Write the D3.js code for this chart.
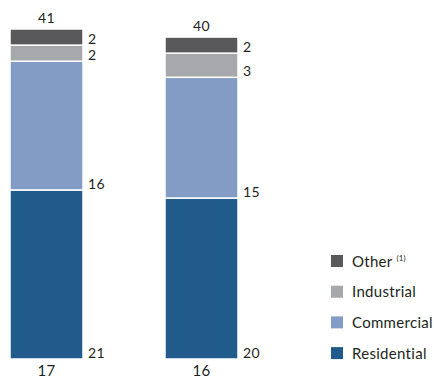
<!DOCTYPE html>
<html><head><meta charset="utf-8">
<script src="https://cdn.jsdelivr.net/npm/d3@7"></script>
<style>body{margin:0;background:#fff}svg{display:block;font-family:Lato,"Open Sans",sans-serif}</style>
</head><body><div id="c"></div>
<script>
const categories = ["17", "16"];
const seriesNames = ["Residential", "Commercial", "Industrial", "Other"];
const residential = [21, 20];
const commercial = [16, 15];
const industrial = [2, 3];
const other = [2, 2];
const totals = [41, 40];
const colors = ["#215b8c", "#839cc5", "#a7a8ab", "#59595b"];

const W = 434, H = 379;
const svg = d3.select("#c").append("svg").attr("width", W).attr("height", H);

const rows = categories.map((c, i) => ({cat: c, Residential: residential[i], Commercial: commercial[i], Industrial: industrial[i], Other: other[i], total: totals[i]}));
const stack = d3.stack().keys(seriesNames)(rows);

const bw = 73;
const x = d3.scalePoint().domain(categories).range([10, 165]);
const xPos = c => x(c);
const y = d3.scaleLinear().domain([0, 41]).range([359, 29]);
const color = d3.scaleOrdinal().domain(seriesNames).range(colors);
const textColor = "#231f20";

stack.forEach(s => {
  const g = svg.append("g");
  g.selectAll("rect").data(s).join("rect")
    .attr("x", d => xPos(d.data.cat))
    .attr("width", bw)
    .attr("y", d => y(d[1]))
    .attr("height", d => y(d[0]) - y(d[1]))
    .attr("fill", color(s.key))
    .attr("stroke", "#fff").attr("stroke-width", 1.5);
  g.selectAll("text").data(s).join("text")
    .attr("x", d => xPos(d.data.cat) + bw + 5)
    .attr("y", d => y(d[0]) - 1)
    .attr("font-size", 14).attr("letter-spacing", 0.3).attr("fill", textColor)
    .text(d => d[1] - d[0]);
});

svg.selectAll(".tot").data(rows).join("text")
  .attr("x", d => xPos(d.cat) + bw / 2)
  .attr("y", d => y(d.total) - 6)
  .attr("text-anchor", "middle").attr("font-size", 14).attr("letter-spacing", 0.3).attr("fill", textColor)
  .text(d => d.total);

svg.selectAll(".cat").data(rows).join("text")
  .attr("x", d => xPos(d.cat) + bw / 2)
  .attr("y", 376)
  .attr("text-anchor", "middle").attr("font-size", 15).attr("letter-spacing", 0.3).attr("fill", textColor)
  .text(d => d.cat);

const legendItems = ["Other", "Industrial", "Commercial", "Residential"];
const lg = svg.append("g");
legendItems.forEach((k, i) => {
  const cy = 261 + i * 30.7;
  lg.append("rect").attr("x", 331).attr("y", cy - 6).attr("width", 12).attr("height", 12).attr("fill", color(k));
  const t = lg.append("text").attr("x", 352).attr("y", cy + 5.5).attr("font-size", 15).attr("letter-spacing", 0.3).attr("fill", textColor).text(k);
  if (k === "Other") {
    t.append("tspan").attr("dx", 4).attr("dy", -6).attr("font-size", 8).attr("letter-spacing", 0).text("(1)");
  }
});
</script></body></html>
